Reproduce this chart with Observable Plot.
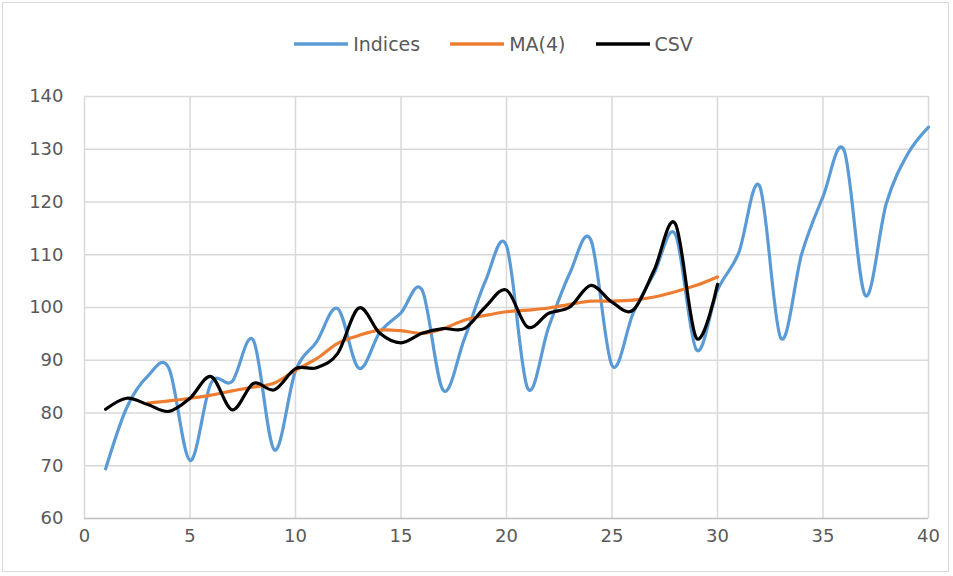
<!DOCTYPE html>
<html><head><meta charset="utf-8">
<script src="https://cdn.jsdelivr.net/npm/d3@7"></script>
<script src="https://cdn.jsdelivr.net/npm/@observablehq/plot@0.6"></script>
<style>
body{margin:0;background:#fff;}
#wrap{position:relative;width:953px;height:576px;overflow:hidden;font-family:"DejaVu Sans",sans-serif;}
#frame{position:absolute;left:2px;top:2px;width:947px;height:570px;border:1px solid #d9d9d9;box-sizing:border-box;pointer-events:none;}
#legend{height:70px;display:flex;justify-content:center;align-items:center;padding-top:18px;box-sizing:border-box;padding-left:34px;}
.item{display:flex;align-items:center;margin:0 15px;color:#595959;font-size:19px;}
.item svg{margin-right:5px;}
#chart svg{display:block;}
</style></head>
<body><div id="wrap"><div id="legend"></div><div id="chart"></div><div id="frame"></div></div>
<script>
const xIdx = d3.range(1, 41);
const indices = [69.4,81,87,88.5,71,85.7,86,93.8,73,88,93.5,99.8,88.5,95.3,99,103.3,84.3,94,105,111.7,84.7,96.3,106.5,112.8,89,98.9,106.5,113.9,92,103.3,110.3,123,94.2,110.3,121,129.8,102.3,119.7,129,134.2];
const maIdx = d3.range(3, 31);
const ma4 = [81.9,82.3,82.8,83.4,84.2,84.9,85.7,88.1,90.3,93.2,94.7,95.7,95.6,95.1,96,97.6,98.5,99.2,99.5,99.9,100.6,101.2,101.2,101.4,102,103,104.2,105.8];
const csvIdx = d3.range(1, 31);
const csv = [80.7,82.8,81.6,80.3,82.8,86.9,80.6,85.6,84.4,88.4,88.6,91.3,99.9,95.1,93.3,95.1,96,96,100.1,103.3,96.3,98.9,100.1,104.2,101,99.5,107.1,115.9,94.2,104.4];
const seriesNames = ["Indices","MA(4)","CSV"];
const seriesColors = ["#5b9bd5","#ed7d31","#000000"];

const rows = [
  ...xIdx.map((x,i)=>({x, y: indices[i], s: seriesNames[0]})),
  ...maIdx.map((x,i)=>({x, y: ma4[i], s: seriesNames[1]})),
  ...csvIdx.map((x,i)=>({x, y: csv[i], s: seriesNames[2]}))
];

const leg = document.getElementById("legend");
seriesNames.forEach((n,i)=>{
  const it = document.createElement("div"); it.className="item";
  it.innerHTML = `<svg width="54" height="10"><line x1="0" x2="54" y1="5" y2="5" stroke="${seriesColors[i]}" stroke-width="3.5"/></svg><span>${n}</span>`;
  leg.appendChild(it);
});

const font = '"DejaVu Sans",sans-serif';
const plot = Plot.plot({
  width: 953, height: 506,
  marginLeft: 84, marginRight: 25, marginTop: 26, marginBottom: 58,
  style: {fontFamily: font, fontSize: "18px", color: "#595959", background: "transparent"},
  x: {domain: [0, 40], label: null},
  y: {domain: [60, 140], label: null},
  color: {domain: seriesNames, range: seriesColors},
  marks: [
    Plot.gridX(d3.range(0, 41, 5), {stroke: "#d9d9d9", strokeOpacity: 1, strokeWidth: 1.5}),
    Plot.gridY(d3.range(70, 141, 10), {stroke: "#d9d9d9", strokeOpacity: 1, strokeWidth: 1.5}),
    Plot.ruleY([60], {stroke: "#bfbfbf", strokeWidth: 1.5}),
    Plot.axisX({ticks: d3.range(0, 41, 5), tickSize: 0, tickPadding: 11, fill: "#595959", fontSize: 18, fontFamily: font}),
    Plot.axisY({ticks: d3.range(60, 141, 10), tickSize: 0, tickPadding: 21, fill: "#595959", fontSize: 18, fontFamily: font}),
    Plot.line(rows, {x: "x", y: "y", z: "s", stroke: "s", strokeWidth: 3.2, curve: "cardinal"})
  ]
});
document.getElementById("chart").appendChild(plot);
</script>
</body></html>
